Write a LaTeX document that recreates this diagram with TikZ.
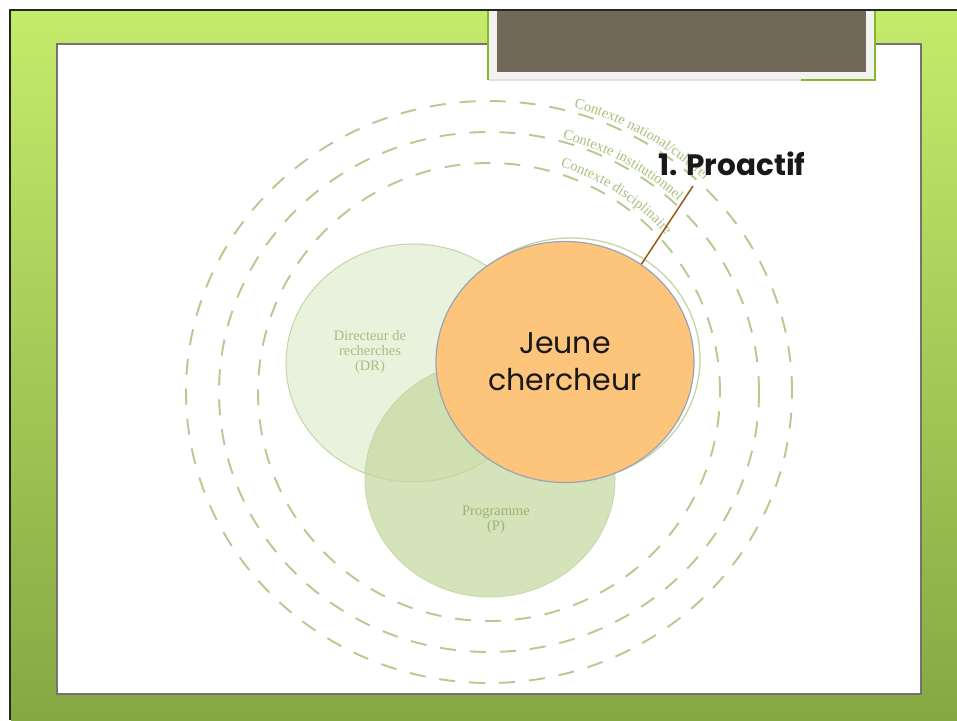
\documentclass[tikz,border=0pt]{standalone}
\usepackage{fontspec}
\setmainfont{Liberation Serif}
\newfontfamily\gothic{Poppins}
\usetikzlibrary{shapes.geometric,decorations.text}
\definecolor{lime1}{HTML}{C5EB6B}
\definecolor{lime2}{HTML}{ADD25B}
\definecolor{lime3}{HTML}{86A843}
\definecolor{ringc}{HTML}{B6CA90}
\definecolor{lblc}{HTML}{A9C17E}
\definecolor{drtext}{HTML}{A7BF80}
\definecolor{ptext}{HTML}{9BB56E}
\definecolor{drfill}{HTML}{E9F2DD}
\definecolor{drline}{HTML}{C3D6A5}
\definecolor{pfill}{HTML}{C4D89E}
\definecolor{orangef}{HTML}{FDC47C}
\definecolor{orline}{HTML}{9BA3B4}
\definecolor{bannerc}{HTML}{716857}
\definecolor{bannerbg}{HTML}{F2F2F0}
\definecolor{bannerln}{HTML}{86B52E}
\definecolor{leader}{HTML}{9A5A14}
\tikzset{
  ring/.style={draw=ringc, line width=1.9pt, dash pattern=on 16pt off 14pt},
  ctxlabel/.style={decorate, decoration={text along path, text align=left, text={|\color{lblc}\fontsize{14.5}{15}\selectfont|#1}}},
  bubble/.style={ellipse, inner sep=0pt},
  smalllbl/.style={align=center, font=\fontsize{14.5}{15}\selectfont, inner sep=0pt},
}
\begin{document}
\begin{tikzpicture}[x=1pt,y=1pt]
\useasboundingbox (0,0) rectangle (957,-720);
\fill[white] (0,0) rectangle (957,-720);
% green frame
\shade[top color=lime1, middle color=lime2, bottom color=lime3] (11,-11) rectangle (957,-720);
% white panel
\draw[fill=white, draw=black!55, line width=1.2pt] (57,-44) rectangle (921,-694);
% banner
\fill[bannerbg] (488,-11) rectangle (875,-80);
\draw[bannerln, line width=1.5pt] (488,-11) -- (488,-80);
\draw[bannerln, line width=1.5pt] (875,-11) -- (875,-80) -- (801,-80);
\draw[black!12, line width=1.5pt] (801,-80) -- (488.75,-80);
\fill[bannerc] (497,-11) rectangle (866,-72);
% black outer edge
\draw[line width=2.5pt, black!85] (10,-720) -- (10,-10) -- (957,-10);

% context rings
\draw[ring] (489,-392) ellipse[x radius=231, y radius=229];
\draw[ring] (489,-392) ellipse[x radius=270, y radius=260];
\draw[ring] (489,-392) ellipse[x radius=303, y radius=291];
\path[ctxlabel={Contexte national/culturel}] (489,-392) ++(74:308 and 296) arc[start angle=74, end angle=10, x radius=308, y radius=296];
\path[ctxlabel={Contexte institutionnel}] (489,-392) ++(74.5:275 and 263) arc[start angle=74.5, end angle=10, x radius=275, y radius=263];
\path[ctxlabel={Contexte disciplinaire}] (489,-392) ++(72.5:237 and 236) arc[start angle=72.5, end angle=10, x radius=237, y radius=236];

% circles
\node[bubble, draw=drline, line width=1.3pt, fill=white, minimum width=258pt, minimum height=242pt] (jcring) at (571,-359) {};
\node[bubble, fill=drfill, draw=drline, line width=1pt, minimum width=254pt, minimum height=238pt] (dr) at (413,-363) {};
\node[bubble, fill=pfill, fill opacity=.7, draw=drline, draw opacity=.8, line width=1pt, minimum width=250pt, minimum height=236pt] (prog) at (490,-479) {};
\node[smalllbl, text=drtext] (drlabel) at (370,-352) {Directeur de\\recherches\\(DR)};
\node[smalllbl, text=ptext] (proglabel) at (496,-520) {Programme\\(P)};
\node[bubble, fill=orangef, draw=orline, line width=1.2pt, minimum width=258pt, minimum height=241pt, align=center, font=\gothic\fontsize{30}{37}\selectfont, text=black!90] (jc) at (565,-362) {Jeune\\chercheur};

% proactif label
\node[font=\gothic\bfseries\fontsize{29.5}{32}\selectfont, anchor=base, inner sep=0pt, text=black!90] (pro) at (732,-175) {1. Proactif};
\coordinate (proend) at (693,-186);
\draw[leader, line width=1.5pt] (proend) -- (jc.52);
\end{tikzpicture}
\end{document}
